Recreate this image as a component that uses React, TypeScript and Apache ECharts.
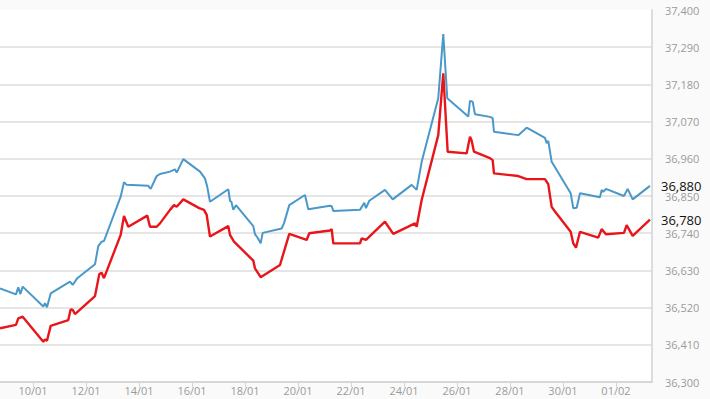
import React, { useEffect, useRef } from "react";
import * as echarts from "echarts";

// x = day number (1 = 01/01, 32 = 01/02), y = price
const blueLine: [number, number][] = [
  [8.755, 36577], [9.358, 36559], [9.445, 36580], [9.52, 36560], [9.611, 36582],
  [10.389, 36523], [10.453, 36533], [10.528, 36521], [10.668, 36562], [11.396, 36597],
  [11.498, 36587], [11.672, 36607], [12.34, 36648], [12.464, 36702], [12.592, 36715],
  [12.679, 36717], [13.309, 36848], [13.434, 36891], [13.536, 36883], [14.351, 36880],
  [14.442, 36871], [14.668, 36909], [14.792, 36915], [15.17, 36922], [15.358, 36929],
  [15.423, 36919], [15.672, 36959], [16.302, 36922], [16.491, 36902], [16.577, 36877],
  [16.679, 36833], [17.37, 36870], [17.434, 36836], [17.49, 36832], [17.558, 36809],
  [17.66, 36823], [18.313, 36761], [18.377, 36737], [18.491, 36725], [18.592, 36710],
  [18.668, 36741], [19.385, 36754], [19.472, 36769], [19.672, 36823], [20.264, 36853],
  [20.389, 36811], [21.208, 36821], [21.272, 36820], [21.332, 36806], [22.34, 36809],
  [22.502, 36830], [22.566, 36814], [22.691, 36836], [23.283, 36868], [23.574, 36840],
  [24.291, 36883], [24.479, 36868], [24.668, 36951], [25.294, 37139], [25.483, 37329],
  [25.634, 37139], [26.426, 37085], [26.491, 37131], [26.592, 37129], [26.679, 37092],
  [27.245, 37084], [27.347, 37080], [27.396, 37040], [28.313, 37030], [28.63, 37052],
  [29.321, 37022], [29.385, 37006], [29.445, 37013], [29.574, 36951], [30.291, 36858],
  [30.389, 36814], [30.517, 36815], [30.642, 36858], [31.396, 36846], [31.46, 36868],
  [31.52, 36862], [31.623, 36871], [32.302, 36850], [32.442, 36871], [32.63, 36840],
  [33.283, 36880],
];

const redLine: [number, number][] = [
  [8.755, 36459], [9.358, 36469], [9.445, 36488], [9.611, 36493], [10.389, 36419],
  [10.453, 36426], [10.528, 36422], [10.668, 36466], [11.332, 36483], [11.423, 36515],
  [11.498, 36513], [11.585, 36501], [12.34, 36554], [12.502, 36619], [12.592, 36623],
  [12.679, 36607], [13.309, 36735], [13.434, 36791], [13.597, 36759], [14.313, 36792],
  [14.415, 36759], [14.668, 36759], [14.792, 36769], [15.17, 36809], [15.321, 36823],
  [15.423, 36818], [15.672, 36840], [16.275, 36814], [16.453, 36809], [16.555, 36794],
  [16.679, 36730], [17.37, 36761], [17.434, 36735], [17.585, 36715], [18.313, 36659],
  [18.377, 36636], [18.592, 36610], [19.321, 36646], [19.672, 36738], [20.328, 36720],
  [20.426, 36740], [21.208, 36748], [21.272, 36752], [21.332, 36710], [22.34, 36710],
  [22.404, 36725], [22.566, 36720], [23.283, 36774], [23.596, 36738], [24.415, 36769],
  [24.479, 36759], [24.668, 36838], [25.294, 37030], [25.483, 37213], [25.649, 36981],
  [26.366, 36976], [26.491, 37025], [26.55, 37015], [26.642, 36981], [27.245, 36962],
  [27.347, 36956], [27.396, 36917], [28.313, 36909], [28.63, 36900], [29.321, 36900],
  [29.445, 36885], [29.574, 36818], [29.698, 36804], [30.291, 36744], [30.389, 36710],
  [30.491, 36697], [30.642, 36744], [31.332, 36727], [31.46, 36752], [31.623, 36737],
  [32.302, 36741], [32.404, 36764], [32.63, 36732], [33.283, 36780],
];

const xTickDays: number[] = [10, 12, 14, 16, 18, 20, 22, 24, 26, 28, 30, 32];
const yMin = 36300;
const yMax = 37400;
const yStep = 110;
const xMin = 8.755;
const xMax = 33.36;

const pad = (n: number) => (n < 10 ? "0" + n : String(n));
const dayLabel = (d: number) => {
  const r = Math.round(d);
  return r <= 31 ? `${pad(r)}/01` : `${pad(r - 31)}/02`;
};
const fmt = (v: number) => Math.round(v).toLocaleString("en-US");

export default function App() {
  const ref = useRef<HTMLDivElement>(null);
  useEffect(() => {
    if (!ref.current) return;
    const chart = echarts.init(ref.current, null, { renderer: "svg" });
    const endLabel = {
      show: true,
      formatter: (p: any) => fmt(p.value[1]),
      color: "#111",
      fontSize: 13,
      fontFamily: "Open Sans",
      distance: 11,
    };
    chart.setOption({
      animation: false,
      backgroundColor: "#fafafa",
      grid: {
        left: 0,
        right: 58,
        top: 10,
        bottom: 17,
        show: true,
        backgroundColor: "#ffffff",
        borderWidth: 0,
      },
      xAxis: {
        type: "value",
        min: xMin,
        max: xMax,
        axisLine: { show: true, lineStyle: { color: "#cfd3d6", width: 1.5 } },
        axisTick: {
          show: true,
          length: 5,
          customValues: xTickDays,
          lineStyle: { color: "#d5d5d5" },
        },
        axisLabel: {
          customValues: xTickDays,
          formatter: (v: number) => dayLabel(v),
          color: "#9a9a9a",
          fontSize: 11,
          fontFamily: "Open Sans",
          margin: 3,
        },
        splitLine: { show: false },
      },
      yAxis: {
        type: "value",
        position: "right",
        min: yMin,
        max: yMax,
        interval: yStep,
        axisLine: { show: true, lineStyle: { color: "#cfd3d6", width: 1.5 } },
        axisTick: { show: false },
        axisLabel: {
          formatter: (v: number) => fmt(v),
          color: "#9a9a9a",
          fontSize: 11,
          fontFamily: "Open Sans",
          margin: 13,
        },
        splitLine: {
          show: true,
          showMaxLine: false,
          lineStyle: { color: "#dcdcdc", width: 1.5 },
        },
      },
      series: [
        {
          type: "line",
          data: blueLine,
          symbol: "none",
          lineStyle: { color: "#4a98c9", width: 2 },
          itemStyle: { color: "#4a98c9" },
          endLabel,
          z: 3,
        },
        {
          type: "line",
          data: redLine,
          symbol: "none",
          lineStyle: { color: "#e8161b", width: 2.4 },
          itemStyle: { color: "#e8161b" },
          endLabel,
          z: 3,
        },
      ],
    });
    return () => chart.dispose();
  }, []);
  return (
    <div
      ref={ref}
      style={{ position: "fixed", left: 0, top: 0, width: 710, height: 399 }}
    />
  );
}
